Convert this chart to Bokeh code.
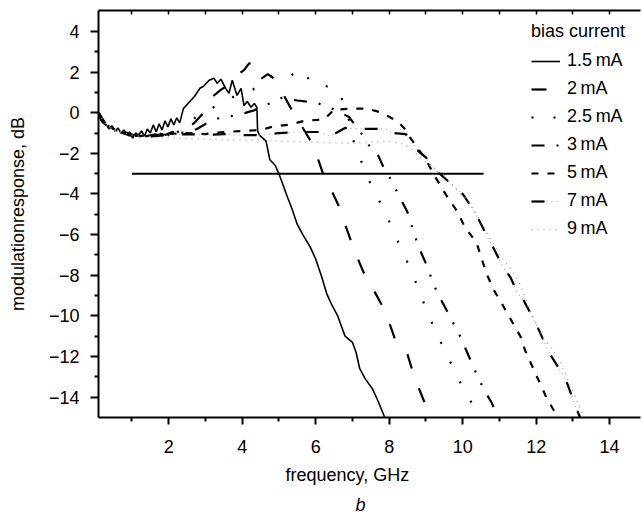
from bokeh.plotting import figure
from bokeh.models import FixedTicker, LinearAxis, Legend, LegendItem, Title
from bokeh.embed import file_html
from bokeh.resources import INLINE

# ---------------- data ----------------
x_ticks = [2, 4, 6, 8, 10, 12, 14]
x_minor_ticks = [1, 3, 5, 7, 9, 11, 13]
x_top_ticks = [1, 2, 3, 4, 5, 6, 7, 8, 9, 10, 11, 12, 13, 14]
y_ticks = [-14, -12, -10, -8, -6, -4, -2, 0, 2, 4]
y_minor_ticks = [-13, -11, -9, -7, -5, -3, -1, 1, 3]
y_tick_labels = ["\u221214", "\u221212", "\u221210", "\u22128", "\u22126",
                 "\u22124", "\u22122", "0", "2", "4"]

series_labels = ["1.5\u2009mA", "2\u2009mA", "2.5\u2009mA", "3\u2009mA",
                 "5\u2009mA", "7\u2009mA", "9\u2009mA"]

ref_x = [1.0, 10.57]
ref_y = [-3.0, -3.0]

curve_1p5 = [(0.09, 0.0), (0.15, -0.35), (0.22, -0.5), (0.3, -0.6), (0.38, -0.8),
             (0.46, -0.65), (0.54, -0.9), (0.62, -0.75), (0.7, -1.0), (0.78, -0.85),
             (0.86, -1.05), (0.94, -0.95), (1.02, -1.25), (1.1, -1.0), (1.18, -1.1),
             (1.26, -0.9), (1.34, -1.15), (1.42, -0.8), (1.5, -1.0), (1.58, -0.6),
             (1.66, -0.95), (1.74, -0.55), (1.82, -0.85), (1.9, -0.4), (1.98, -0.7),
             (2.06, -0.3), (2.14, -0.6), (2.22, -0.25), (2.3, -0.5), (2.4, 0.2),
             (2.55, 0.5), (2.7, 0.8), (2.85, 1.2), (2.95, 1.3), (3.1, 1.6),
             (3.23, 1.7), (3.32, 1.45), (3.42, 1.65), (3.55, 1.2), (3.64, 0.95),
             (3.73, 1.6), (3.86, 0.85), (3.97, 1.2), (4.05, 0.35), (4.14, 0.55),
             (4.24, 0.27), (4.33, 0.45), (4.4, 0.27), (4.42, -0.9), (4.47, -1.1),
             (4.65, -1.4), (4.75, -2.3), (4.9, -2.6), (5.0, -3.0), (5.1, -3.5),
             (5.2, -4.0), (5.35, -4.7), (5.5, -5.5), (5.65, -6.0), (5.85, -6.6),
             (6.0, -7.2), (6.15, -8.0), (6.3, -8.9), (6.45, -9.5), (6.6, -10.0),
             (6.8, -11.0), (7.0, -11.3), (7.1, -11.8), (7.2, -12.6), (7.35, -13.1),
             (7.55, -13.6), (7.7, -14.2), (7.88, -15.0)]

curve_2 = [(0.09, 0.0), (0.2, -0.45), (0.35, -0.7), (0.5, -0.8), (0.7, -0.95),
           (0.9, -1.0), (1.1, -1.15), (1.3, -1.05), (1.5, -1.15), (1.7, -1.0),
           (1.9, -1.1), (2.1, -0.95), (2.3, -1.0), (2.5, -0.8), (2.7, -0.5),
           (2.9, -0.1), (3.1, 0.4), (3.2, 0.8), (3.4, 1.1), (3.6, 1.35),
           (3.75, 1.6), (3.9, 1.9), (4.05, 2.1), (4.2, 2.45), (4.32, 1.75),
           (4.5, 1.65), (4.7, 1.9), (4.85, 1.7), (5.0, 1.3), (5.12, 0.9),
           (5.3, 0.3), (5.5, -0.3), (5.7, -0.9), (5.9, -1.5), (6.05, -2.2),
           (6.2, -3.0), (6.4, -3.7), (6.63, -4.6), (6.8, -5.5), (6.97, -6.35),
           (7.15, -7.2), (7.35, -8.05), (7.6, -8.8), (7.9, -9.8), (8.15, -11.1),
           (8.3, -11.4), (8.45, -11.6), (8.6, -12.5), (8.75, -13.3), (8.95, -14.2),
           (9.15, -15.0)]

curve_2p5 = [(0.09, 0.0), (0.25, -0.5), (0.45, -0.75), (0.65, -0.9), (0.85, -1.05),
             (1.05, -1.1), (1.3, -1.2), (1.6, -1.1), (1.9, -1.05), (2.2, -1.0),
             (2.45, -0.7), (2.64, -0.4), (2.85, 0.0), (3.15, 0.2), (3.5, 0.55),
             (3.9, 0.9), (4.3, 1.15), (4.7, 1.75), (5.0, 1.9), (5.3, 1.95),
             (5.55, 1.7), (5.75, 1.95), (5.83, 1.5), (6.2, 1.35), (6.6, 1.15),
             (6.85, 0.1), (7.07, -1.7), (7.33, -2.75), (7.55, -3.77), (7.88, -4.8),
             (8.1, -5.8), (8.37, -6.85), (8.62, -7.85), (8.84, -8.9), (9.06, -9.9),
             (9.3, -10.9), (9.57, -11.9), (9.85, -13.0), (10.15, -14.0), (10.5, -15.0)]

curve_3 = [(0.09, 0.0), (0.3, -0.6), (0.55, -0.85), (0.8, -1.0), (1.1, -1.1),
           (1.4, -1.15), (1.7, -1.05), (2.0, -1.1), (2.3, -1.0), (2.55, -0.95),
           (2.77, -0.8), (3.1, -0.45), (3.45, -0.2), (3.8, -0.15), (4.3, 0.1),
           (4.8, 0.5), (5.1, 0.75), (5.5, 0.6), (6.0, 0.5), (6.45, 0.2),
           (6.9, -0.2), (7.2, -0.9), (7.45, -1.6), (7.7, -2.1), (7.85, -2.7),
           (8.05, -3.3), (8.23, -3.95), (8.5, -4.9), (8.67, -5.9), (8.8, -6.6),
           (9.02, -7.5), (9.22, -8.5), (9.38, -9.1), (9.66, -10.05), (9.93, -11.0),
           (10.1, -11.7), (10.35, -12.75), (10.6, -13.7), (10.8, -14.3), (10.95, -15.0)]

curve_5 = [(0.09, 0.0), (0.3, -0.6), (0.6, -0.9), (0.9, -1.05), (1.2, -1.15),
           (1.6, -1.1), (2.0, -1.05), (2.5, -1.0), (3.0, -1.05), (3.5, -0.95),
           (4.0, -0.9), (4.5, -0.85), (4.87, -0.67), (5.25, -0.6), (5.7, -0.4),
           (6.05, -0.35), (6.25, -0.3), (6.5, 0.15), (7.0, 0.2), (7.4, 0.2),
           (7.8, 0.0), (8.25, -0.45), (8.45, -0.85), (8.6, -1.3), (8.8, -1.8),
           (9.0, -2.3), (9.2, -3.0), (9.55, -4.05), (9.85, -4.85), (10.05, -5.6),
           (10.38, -6.4), (10.5, -7.1), (10.67, -8.0), (10.84, -8.7), (11.1, -9.5),
           (11.35, -10.3), (11.57, -11.0), (11.7, -11.7), (11.9, -12.5), (12.1, -13.3),
           (12.3, -14.1), (12.6, -15.0)]

curve_7 = [(0.09, 0.0), (0.3, -0.65), (0.6, -0.9), (0.9, -1.1), (1.2, -1.2),
           (1.6, -1.15), (2.0, -1.1), (2.5, -1.05), (3.0, -1.1), (3.5, -1.05),
           (4.0, -1.1), (4.6, -1.1), (5.0, -1.0), (5.5, -0.95), (6.1, -0.95),
           (6.4, -1.15), (6.8, -0.75), (7.1, -0.8), (7.55, -0.8), (7.9, -0.8),
           (8.1, -1.0), (8.45, -1.05), (8.6, -1.4), (8.8, -1.9), (9.0, -2.2),
           (9.25, -2.8), (9.5, -3.2), (9.75, -3.6), (10.0, -4.0), (10.3, -4.8),
           (10.45, -5.3), (10.7, -6.2), (10.85, -6.7), (11.1, -7.6), (11.3, -8.1),
           (11.5, -8.9), (11.65, -9.2), (12.0, -10.4), (12.35, -11.8), (12.8, -13.1),
           (13.1, -14.6), (13.2, -15.0)]

curve_9 = [(0.09, 0.0), (0.3, -0.6), (0.6, -0.9), (1.0, -1.1), (1.5, -1.2),
           (2.0, -1.25), (3.0, -1.3), (4.0, -1.35), (5.0, -1.4), (6.0, -1.45),
           (7.0, -1.5), (7.5, -1.45), (8.0, -1.4), (8.4, -1.55), (8.65, -1.85),
           (8.9, -2.3), (9.2, -2.7), (9.5, -3.1), (9.85, -3.8), (10.2, -4.45),
           (10.6, -5.7), (11.0, -7.0), (11.4, -7.9), (11.6, -8.6), (11.8, -9.6),
           (12.2, -11.1), (12.6, -12.0), (12.9, -13.3), (13.3, -15.0)]

# ---------------- figure ----------------
FONT = "Liberation Sans"
FS = "18px"
BLACK = "black"
GREY = "#a6a6a6"

p = figure(width=642, height=515, x_range=(0.09, 14.84), y_range=(-15.0, 5.03),
           output_backend="svg", toolbar_location=None,
           min_border_left=98, min_border_right=2, min_border_top=10,
           min_border_bottom=98)
p.xgrid.visible = False
p.ygrid.visible = False
p.outline_line_color = None
p.background_fill_color = "white"

for ax, ticks, minor, tout, stand, labels in (
        (p.xaxis[0], x_ticks, x_minor_ticks, 7, 15, None),
        (p.yaxis[0], y_ticks, y_minor_ticks, 8, 11, y_tick_labels)):
    ax.ticker = FixedTicker(ticks=ticks, minor_ticks=minor)
    ax.axis_line_width = 2
    ax.axis_line_color = BLACK
    ax.major_tick_line_width = 2
    ax.minor_tick_line_width = 2
    ax.major_tick_line_color = BLACK
    ax.minor_tick_line_color = BLACK
    ax.major_tick_in = 0
    ax.major_tick_out = tout
    ax.minor_tick_in = 0
    ax.minor_tick_out = 4
    ax.major_label_text_font = FONT
    ax.major_label_text_font_size = FS
    ax.major_label_text_color = BLACK
    ax.major_label_standoff = stand
    if labels:
        ax.major_label_overrides = {t: l for t, l in zip(ticks, labels)}

p.yaxis[0].axis_label = "modulationresponse, dB"
p.yaxis[0].axis_label_text_font = FONT
p.yaxis[0].axis_label_text_font_size = FS
p.yaxis[0].axis_label_text_font_style = "normal"
p.yaxis[0].axis_label_text_color = BLACK
p.yaxis[0].axis_label_standoff = 18

top = LinearAxis(ticker=FixedTicker(ticks=[], minor_ticks=x_top_ticks))
top.axis_line_width = 2
top.axis_line_color = BLACK
top.minor_tick_line_width = 1.5
top.minor_tick_line_color = BLACK
top.minor_tick_in = 4
top.minor_tick_out = 0
top.major_tick_in = 0
top.major_tick_out = 0
p.add_layout(top, "above")

p.add_layout(Title(text="frequency, GHz", align="left", offset=187, standoff=15,
                   text_font=FONT, text_font_size=FS, text_font_style="normal",
                   text_color=BLACK),
             "below")
p.add_layout(Title(text="b", align="left", offset=257, standoff=0,
                   text_font=FONT, text_font_size=FS, text_font_style="italic",
                   text_color=BLACK),
             "below")


def xs(c):
    return [a for a, _ in c]


def ys(c):
    return [b for _, b in c]


renderers = []
r = p.line(xs(curve_1p5), ys(curve_1p5), line_color=BLACK, line_width=1.6)
renderers.append([r])
r = p.line(xs(curve_2), ys(curve_2), line_color=BLACK, line_width=2.2, line_dash="15 21")
renderers.append([r])
r = p.line(xs(curve_2p5), ys(curve_2p5), line_color=BLACK, line_width=2.2, line_dash="2 20")
renderers.append([r])
r = p.line(xs(curve_3), ys(curve_3), line_color=BLACK, line_width=2.2,
           line_dash="13 12 2 12 2 12")
renderers.append([r])
r = p.line(xs(curve_5), ys(curve_5), line_color=BLACK, line_width=2.2, line_dash="7 9")
renderers.append([r])
r1 = p.line(xs(curve_7), ys(curve_7), line_color=GREY, line_width=1.2, line_dash="1 4")
r2 = p.line(xs(curve_7), ys(curve_7), line_color=BLACK, line_width=2.2, line_dash="13 18")
renderers.append([r1, r2])
r = p.line(xs(curve_9), ys(curve_9), line_color=GREY, line_width=1.5, line_dash="1 5")
renderers.append([r])

p.line(ref_x, ref_y, line_color=BLACK, line_width=2)

legend = Legend(items=[LegendItem(label=lab, renderers=rs)
                       for lab, rs in zip(series_labels, renderers)],
                title="bias current", location=(433, 178))
legend.title_text_font = FONT
legend.title_text_font_size = FS
legend.title_text_font_style = "normal"
legend.title_text_color = BLACK
legend.title_standoff = 8
legend.label_text_font = FONT
legend.label_text_font_size = FS
legend.label_text_color = BLACK
legend.label_standoff = 7
legend.glyph_width = 29
legend.glyph_height = 20
legend.label_height = 20
legend.spacing = 7
legend.padding = 0
legend.margin = 0
legend.border_line_color = None
legend.background_fill_alpha = 0
p.add_layout(legend)

open("out.html", "w").write(file_html(p, INLINE))
